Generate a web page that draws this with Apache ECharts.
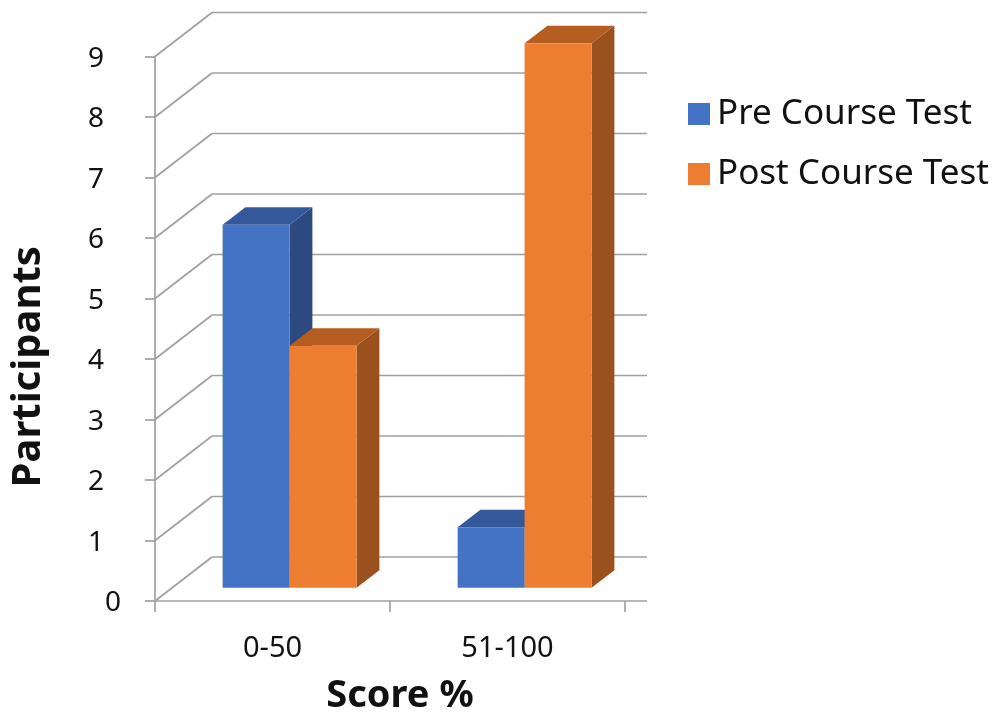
<!DOCTYPE html>
<html>
<head>
<meta charset="utf-8">
<script src="https://cdn.jsdelivr.net/npm/echarts@6/dist/echarts.min.js"></script>
<style>
  html, body { margin: 0; padding: 0; background: #ffffff; }
  #chart { width: 999px; height: 718px; }
</style>
</head>
<body>
<div id="chart"></div>
<script>
// Score bands and participant counts
const categories = ['0-50', '51-100'];
const preCourse = [6, 1];
const postCourse = [4, 9];
const yTicks = [0, 1, 2, 3, 4, 5, 6, 7, 8, 9];
const seriesNames = ['Pre Course Test', 'Post Course Test'];

// Oblique depth of the 3D box (pixels) and look of the faces
const DEPTH_X = 57;
const DEPTH_Y = -44;
const BACK_EXTRA = 22;           // how far the back wall / floor edge run past the last tick
const BAR_FRONT = 0.3;           // bar placement inside the depth
const BAR_DEPTH = 0.4;
const BAR_RATIO = 0.285;         // front-face width relative to category band
const GRID_COLOR = '#a0a0a0';
const FONT = '"Noto Sans", "Open Sans", sans-serif';

const faces = [
  { front: '#4472c4', top: '#35589b', side: '#2c4a80' },
  { front: '#ed7d31', top: '#b65e21', side: '#9b511e' }
];

function wallItem(params, api) {
  const cs = params.coordSys;
  const left = cs.x;
  const right = cs.x + cs.width + BACK_EXTRA;
  const v = api.value(1);
  const y = api.coord([0, v])[1];
  const lineStyle = { stroke: GRID_COLOR, lineWidth: 1.7 };
  const children = [
    { type: 'line', shape: { x1: left, y1: y, x2: left + DEPTH_X, y2: y + DEPTH_Y }, style: lineStyle },
    { type: 'line', shape: { x1: left + DEPTH_X, y1: y + DEPTH_Y, x2: right, y2: y + DEPTH_Y }, style: lineStyle }
  ];
  if (v === 0) {
    children.push({ type: 'line', shape: { x1: left, y1: y, x2: right, y2: y }, style: lineStyle });
  }
  return { type: 'group', children: children };
}

function barItem(pos) {
  const c = faces[pos];
  return function (params, api) {
    const cat = api.value(0);
    const v = api.value(1);
    const base = api.coord([cat, 0]);
    const top = api.coord([cat, v]);
    const band = api.size([1, 0])[0];
    const w = band * BAR_RATIO;
    const ox = DEPTH_X * BAR_FRONT, oy = DEPTH_Y * BAR_FRONT;
    const dx = DEPTH_X * BAR_DEPTH, dy = DEPTH_Y * BAR_DEPTH;
    const x0 = base[0] + (pos === 0 ? -w : 0) + ox;
    const x1 = x0 + w;
    const yB = base[1] + oy;
    const yT = top[1] + oy;
    return {
      type: 'group',
      children: [
        { type: 'polygon', shape: { points: [[x1, yT], [x1 + dx, yT + dy], [x1 + dx, yB + dy], [x1, yB]] }, style: { fill: c.side } },
        { type: 'polygon', shape: { points: [[x0, yT], [x1, yT], [x1 + dx, yT + dy], [x0 + dx, yT + dy]] }, style: { fill: c.top } },
        { type: 'rect', shape: { x: x0, y: yT, width: w, height: yB - yT }, style: { fill: c.front } }
      ]
    };
  };
}

const chart = echarts.init(document.getElementById('chart'), null, { renderer: 'canvas' });

chart.setOption({
  animation: false,
  backgroundColor: '#ffffff',
  textStyle: { fontFamily: FONT },
  grid: { left: 155, top: 56.5, right: 374, bottom: 117, containLabel: false, outerBoundsMode: 'none' },
  legend: {
    data: seriesNames,
    orient: 'vertical',
    left: 683,
    top: 91,
    icon: 'rect',
    itemWidth: 22,
    itemHeight: 22,
    itemGap: 24,
    textStyle: { fontFamily: FONT, fontSize: 35, color: '#111111', lineHeight: 36, padding: [0, 0, 0, 2] }
  },
  xAxis: {
    type: 'category',
    data: categories,
    name: 'Score %',
    nameLocation: 'middle',
    nameGap: 76,
    nameTextStyle: { fontFamily: FONT, fontSize: 38, fontWeight: 'bold', color: '#111111', padding: [0, 0, 0, 20] },
    axisLine: { show: false },
    axisTick: { show: true, length: 11, lineStyle: { color: GRID_COLOR, width: 1.7 } },
    axisLabel: { fontFamily: FONT, fontSize: 29, color: '#111111', margin: 33 },
    splitLine: { show: false }
  },
  yAxis: {
    type: 'value',
    min: 0,
    max: 9,
    interval: 1,
    name: 'Participants',
    nameLocation: 'middle',
    nameRotate: 90,
    nameGap: 106,
    nameTextStyle: { fontFamily: FONT, fontSize: 40, fontWeight: 'bold', color: '#111111', padding: [0, 76, 0, 0] },
    axisLine: { show: true, lineStyle: { color: GRID_COLOR, width: 1.7 } },
    axisTick: { show: true, length: 10, lineStyle: { color: GRID_COLOR, width: 1.7 } },
    axisLabel: {
      fontFamily: FONT,
      fontSize: 28,
      color: '#111111',
      align: 'left',
      margin: 67,
      padding: [5, 0, 0, 0],
      formatter: function (v) { return v === 0 ? '{z|0}' : String(v); },
      rich: { z: { fontFamily: FONT, fontSize: 28, color: '#111111', padding: [0, 0, 0, 17] } }
    },
    splitLine: { show: false }
  },
  series: [
    {
      name: 'walls',
      type: 'custom',
      silent: true,
      clip: false,
      z: 1,
      renderItem: wallItem,
      data: yTicks.map(function (v) { return [0, v]; })
    },
    {
      name: seriesNames[0],
      type: 'custom',
      clip: false,
      z: 2,
      itemStyle: { color: faces[0].front },
      renderItem: barItem(0),
      data: categories.map(function (c, i) { return [i, preCourse[i]]; })
    },
    {
      name: seriesNames[1],
      type: 'custom',
      clip: false,
      z: 3,
      itemStyle: { color: faces[1].front },
      renderItem: barItem(1),
      data: categories.map(function (c, i) { return [i, postCourse[i]]; })
    }
  ]
});
</script>
</body>
</html>
